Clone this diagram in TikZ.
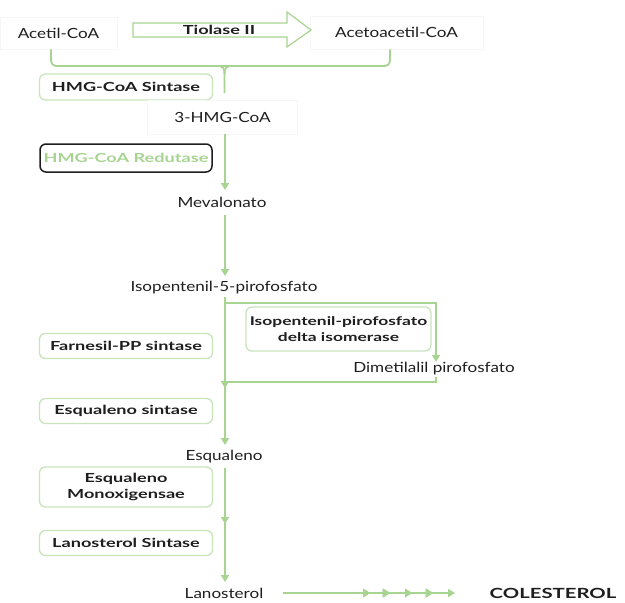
\documentclass[tikz,border=0pt]{standalone}
\usepackage{fontspec}
\setmainfont{Lato}[FakeStretch=1.22]
\newfontfamily\enzfont{Lato}[FakeStretch=1.45]
\usetikzlibrary{arrows.meta,decorations.markings}
\definecolor{gline}{RGB}{168,212,145}
\definecolor{gbox}{RGB}{200,228,186}
\definecolor{ink}{RGB}{30,30,30}
\definecolor{faintc}{RGB}{246,246,246}
\tikzset{
  gl/.style={draw=gline, line width=1.8pt},
  tip/.style={-{Triangle[width=8pt,length=7pt]}},
  faintbox/.style={draw=faintc, line width=0.6pt, inner sep=0pt, text=ink, font=\fontsize{14}{16}\selectfont},
  lbl/.style={text=ink, inner sep=2pt, font=\fontsize{14}{16}\selectfont},
  enzbox/.style={draw=gbox, line width=1.3pt, rounded corners=6pt, minimum width=173pt, inner sep=1pt, text=ink, align=center, font=\enzfont\bfseries\fontsize{12.5}{16}\selectfont},
  midmark/.style={postaction={decorate}, decoration={markings, mark=at position #1 with {\arrow{Triangle[width=8pt,length=7pt]}}}},
}
\begin{document}
\begin{tikzpicture}[x=1pt,y=-1pt]
\useasboundingbox[fill=white] (0,0) rectangle (625,603);
% top row
\node[faintbox, minimum width=117pt, minimum height=32pt] (acetil) at (58.5,33) {Acetil-CoA};
\node[faintbox, minimum width=173pt, minimum height=33pt] (acetoac) at (396.5,32.5) {Acetoacetil-CoA};
\draw[draw=gline, line width=1.2pt, fill=white] (133,23) -- (287,23) -- (287,12) -- (311,30) -- (287,47) -- (287,37) -- (133,37) -- cycle;
\node[text=ink, font=\enzfont\bfseries\fontsize{12.5}{14}\selectfont] (tiolase) at (219,29.5) {Tiolase II};
% bracket
\coordinate (bl) at (51,66);
\coordinate (br) at (390,66);
\draw[gl, rounded corners=5pt] (acetil.south -| bl) -- (bl) -- (br) -- (acetoac.south -| br);
\node[enzbox, minimum height=26pt] (hmgsint) at (126,87) {HMG-CoA Sintase};
\node[faintbox, minimum width=150pt, minimum height=34pt] (hmg) at (222.5,117) {3-HMG-CoA};
\draw[gl] (217,66) .. controls (223,66) and (224.5,68) .. (224.5,74) -- (224.5,93);
\draw[gl] (232,66) .. controls (226,66) and (224.5,68) .. (224.5,74);
% reductase
\node[draw=ink, line width=1.5pt, rounded corners=6pt, minimum width=172pt, minimum height=28pt, inner sep=1pt, text=gline, font=\enzfont\bfseries\fontsize{12.5}{14}\selectfont] (red) at (126,158) {HMG-CoA Redutase};
\node[lbl] (mev) at (222,202) {Mevalonato};
\draw[gl, tip] (hmg.south -| 225,0) -- (225,190);
\node[lbl] (ipp) at (224,288) {Isopentenil-5-pirofosfato};
\draw[gl, tip] (225,215) -- (225,276);
% frame
\coordinate (ftl) at (225,303);
\coordinate (ftr) at (436,303);
\coordinate (fbr) at (436,382);
\coordinate (fbl) at (225,382);
\node[enzbox, minimum width=185pt, minimum height=44pt, font=\enzfont\bfseries\fontsize{12}{15.5}\selectfont] (isom) at (338.5,329) {Isopentenil-pirofosfato\\delta isomerase};
\node[lbl] (dma) at (434,369) {Dimetilalil pirofosfato};
\draw[gl, tip, line join=miter] (ftl) -- (ftr) -- (436,362);
\draw[gl, line join=miter] (436,377) -- (fbr) -- (fbl);
\node[enzbox, minimum height=25pt] (farn) at (126,346) {Farnesil-PP sintase};
\node[enzbox, minimum height=25pt] (esqs) at (126,411) {Esqualeno sintase};
\node[lbl] (esq) at (224,457) {Esqualeno};
\draw[gl] (225,297) -- (ftl);
\draw[gl, tip, midmark=0.6] (ftl) -- (225,445);
% lower
\node[enzbox, minimum height=40pt] (mono) at (126,487) {Esqualeno\\Monoxigensae};
\node[enzbox, minimum height=25pt] (lans) at (126,543) {Lanosterol Sintase};
\node[lbl] (lan) at (224,593) {Lanosterol};
\draw[gl, tip, midmark=0.49] (225,468) -- (225,582);
\node[text=ink, font=\enzfont\bfseries\fontsize{14}{16}\selectfont] (col) at (553,593) {COLESTEROL};
\coordinate (lstart) at (283,593);
\draw[gl, tip, midmark=0.506, midmark=0.622, midmark=0.75, midmark=0.872] (lstart) -- (455,593);
\end{tikzpicture}
\end{document}
